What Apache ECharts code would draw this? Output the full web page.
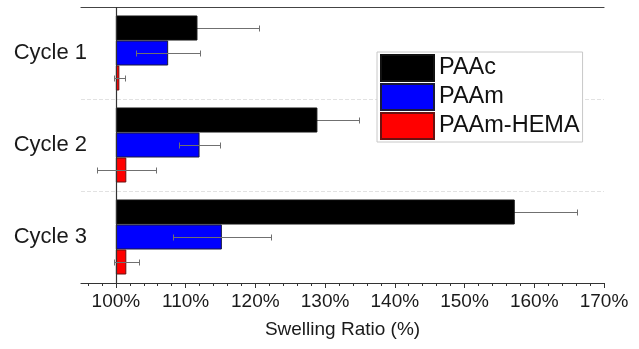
<!DOCTYPE html>
<html>
<head>
<meta charset="utf-8">
<style>
  html, body { margin: 0; padding: 0; background: #fff; }
  #chart { width: 639px; height: 349px; }
</style>
<script src="https://cdn.jsdelivr.net/npm/echarts@6/dist/echarts.min.js"></script>
</head>
<body>
<div id="chart"></div>
<script>
// Swelling ratio per cycle for three hydrogels (mean and error)
const categories = ['Cycle 1', 'Cycle 2', 'Cycle 3'];
const seriesNames = ['PAAc', 'PAAm', 'PAAm-HEMA'];
const paacValues = [111.7, 128.9, 157.2];
const paacErrors = [8.8, 6.0, 8.9];
const paamValues = [107.5, 112.0, 115.2];
const paamErrors = [4.6, 3.0, 7.0];
const hemaValues = [100.5, 101.5, 101.5];
const hemaErrors = [0.8, 4.2, 1.75];
const baseline = 100;                       // bars grow from 100 %
const xMin = 95, xMax = 170;
const majorTicks = [100, 110, 120, 130, 140, 150, 160, 170];
const minorTicks = [96, 98, 102, 104, 106, 108, 112, 114, 116, 118, 122, 124, 126, 128,
                    132, 134, 136, 138, 142, 144, 146, 148, 152, 154, 156, 158,
                    162, 164, 166, 168];

const valueSets = [paacValues, paamValues, hemaValues];
const errorSets = [paacErrors, paamErrors, hemaErrors];
const colors = ['#000000', '#0000ff', '#ff0000'];
const borders = ['#111111', '#1a1a3a', '#6a1010'];

const FONT = 'Liberation Sans, Arial, sans-serif';
const BAR_W = 25;

const series = [];
valueSets.forEach((vals, k) => {
  // invisible base up to the baseline so the visible bar starts at 100 %
  series.push({
    type: 'bar', stack: 's' + k, name: '_base' + k,
    barWidth: BAR_W, barGap: '0%', silent: true,
    itemStyle: { color: 'transparent' },
    data: vals.map(() => baseline)
  });
  series.push({
    type: 'bar', stack: 's' + k, name: seriesNames[k],
    barWidth: BAR_W, barGap: '0%', z: 2,
    itemStyle: { color: colors[k], borderColor: borders[k], borderWidth: 1 },
    data: vals.map(v => v - baseline)
  });
});

// error bars: [value, category index, series index, error]
function errorRows(ks) {
  const rows = [];
  ks.forEach(k => valueSets[k].forEach((v, i) => rows.push([v, i, k, errorSets[k][i]])));
  return rows;
}

function renderError(params, api) {
  const v = api.value(0), cat = api.value(1), k = api.value(2), e = api.value(3);
  const lo = api.coord([v - e, cat]);
  const hi = api.coord([v + e, cat]);
  const y = Math.round(lo[1] + (k - 1) * BAR_W) + 0.5;
  const x1 = Math.round(lo[0]) + 0.5, x2 = Math.round(hi[0]) + 0.5;
  const style = { stroke: '#707070', lineWidth: 1 };
  return {
    type: 'group',
    children: [
      { type: 'line', shape: { x1: x1, y1: y, x2: x2, y2: y }, style: style },
      { type: 'line', shape: { x1: x1, y1: y - 3, x2: x1, y2: y + 3 }, style: style },
      { type: 'line', shape: { x1: x2, y1: y - 3, x2: x2, y2: y + 3 }, style: style }
    ]
  };
}

// PAAc error bars sit behind the black bars; the others are drawn on top
series.push({
  type: 'custom', name: 'errorBack', z: 1, silent: true,
  encode: { x: 0, y: 1 }, data: errorRows([0]), renderItem: renderError
});
series.push({
  type: 'custom', name: 'errorFront', z: 10, silent: true,
  encode: { x: 0, y: 1 }, data: errorRows([1, 2]), renderItem: renderError
});

// vertical reference line at the baseline
series[1].markLine = {
  silent: true, symbol: 'none', label: { show: false },
  lineStyle: { color: '#333', width: 1.2, type: 'solid' },
  data: [{ xAxis: baseline }]
};

const chart = echarts.init(document.getElementById('chart'), null, { renderer: 'canvas' });
chart.setOption({
  animation: false,
  backgroundColor: '#ffffff',
  textStyle: { fontFamily: FONT },
  grid: { left: 81, right: 35, top: 7, bottom: 66, containLabel: false },
  legend: {
    data: seriesNames,
    orient: 'vertical',
    left: 377, top: 52,
    padding: [2, 3, 2, 3],
    itemWidth: 53, itemHeight: 26, itemGap: 1,
    icon: 'rect',
    backgroundColor: '#fff',
    borderColor: '#c8c8c8', borderWidth: 1,
    textStyle: { fontSize: 23.5, color: '#111', fontFamily: FONT }
  },
  xAxis: [
    {
      type: 'value', min: xMin, max: xMax, position: 'bottom',
      name: 'Swelling Ratio (%)', nameLocation: 'middle', nameGap: 37,
      nameTextStyle: { fontSize: 19, color: '#1a1a1a', fontFamily: FONT },
      axisLine: { show: true, lineStyle: { color: '#333', width: 1.2 } },
      axisTick: { show: true, customValues: majorTicks, length: 5, lineStyle: { color: '#333' } },
      axisLabel: { customValues: majorTicks, formatter: '{value}%', fontSize: 19, color: '#1a1a1a', margin: 9, fontFamily: FONT },
      splitLine: { show: false }
    },
    {
      type: 'value', min: xMin, max: xMax, position: 'bottom',
      axisLine: { show: false },
      axisTick: { show: true, customValues: minorTicks, length: 3, lineStyle: { color: '#333' } },
      axisLabel: { show: false },
      splitLine: { show: false }
    },
    {
      type: 'value', min: xMin, max: xMax, position: 'top',
      axisLine: { show: true, lineStyle: { color: '#444', width: 1.2 } },
      axisTick: { show: false }, axisLabel: { show: false }, splitLine: { show: false }
    }
  ],
  yAxis: {
    type: 'category', data: categories, inverse: true,
    axisLine: { show: false }, axisTick: { show: false },
    axisLabel: { fontSize: 22, color: '#1a1a1a', margin: -6, fontFamily: FONT },
    splitLine: { show: true, lineStyle: { color: '#e2e2e2', type: 'dashed', width: 1 } }
  },
  series: series
});
</script>
</body>
</html>
